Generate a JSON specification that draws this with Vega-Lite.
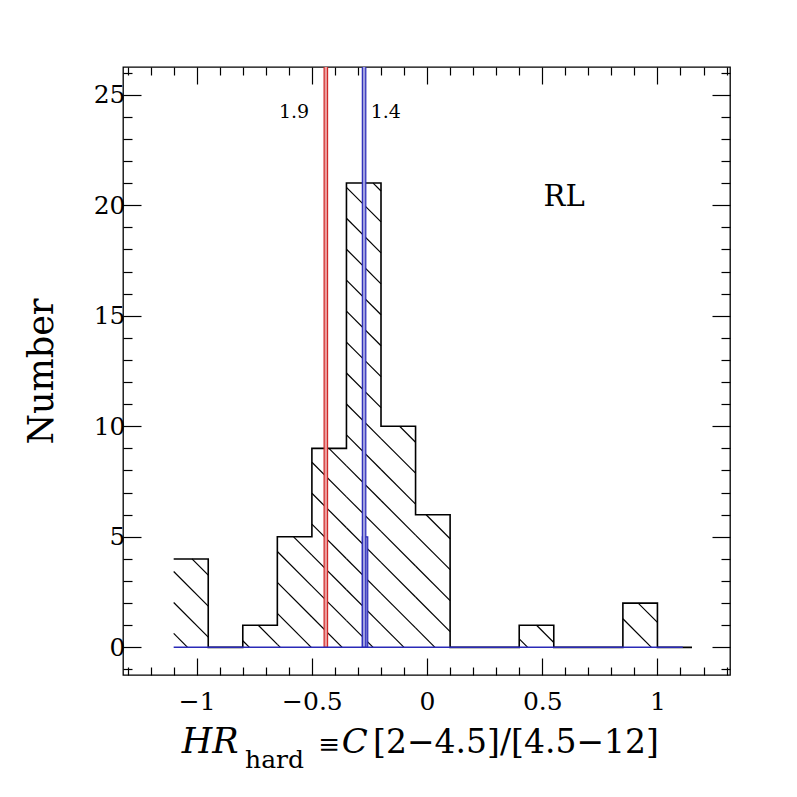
{
  "$schema": "https://vega.github.io/schema/vega-lite/v6.json",
  "width": 607,
  "height": 608,
  "autosize": {"type": "none"},
  "padding": {"left": 123, "top": 67, "right": 67, "bottom": 122},
  "background": "white",
  "config": {
    "view": {"stroke": "black", "strokeWidth": 1.3},
    "axis": {"grid": false, "domain": false, "labelFont": "DejaVu Serif", "labelFontSize": 25, "labelColor": "black", "tickColor": "black", "tickWidth": 1.2, "titleFont": "DejaVu Serif", "titleFontWeight": "normal", "titleColor": "black"}
  },
  "datasets": {
    "hist": [
      {"x": -1.1, "n": 4}, {"x": -0.95, "n": 0}, {"x": -0.8, "n": 1}, {"x": -0.65, "n": 5},
      {"x": -0.5, "n": 9}, {"x": -0.35, "n": 21}, {"x": -0.2, "n": 10}, {"x": -0.05, "n": 6},
      {"x": 0.1, "n": 0}, {"x": 0.25, "n": 0}, {"x": 0.4, "n": 1}, {"x": 0.55, "n": 0},
      {"x": 0.7, "n": 0}, {"x": 0.85, "n": 2}, {"x": 1.0, "n": 0}, {"x": 1.15, "n": 0}
    ],
    "hatch": [
      {"x": -1.1, "y": 0.63, "x2": -1.0396, "y2": 0},
      {"x": -1.1, "y": 2.03, "x2": -0.95, "y2": 0.466},
      {"x": -1.1, "y": 3.43, "x2": -0.95, "y2": 1.866},
      {"x": -1.0204, "y": 4, "x2": -0.95, "y2": 3.266},
      {"x": -0.8, "y": 0.301, "x2": -0.7711, "y2": 0},
      {"x": -0.7328, "y": 1, "x2": -0.65, "y2": 0.137},
      {"x": -0.65, "y": 0.137, "x2": -0.6369, "y2": 0},
      {"x": -0.65, "y": 1.537, "x2": -0.5027, "y2": 0},
      {"x": -0.65, "y": 2.937, "x2": -0.5, "y2": 1.372},
      {"x": -0.65, "y": 4.337, "x2": -0.5, "y2": 2.772},
      {"x": -0.5794, "y": 5, "x2": -0.5, "y2": 4.172},
      {"x": -0.5, "y": 1.372, "x2": -0.3685, "y2": 0},
      {"x": -0.5, "y": 2.772, "x2": -0.35, "y2": 1.208},
      {"x": -0.5, "y": 4.172, "x2": -0.35, "y2": 2.608},
      {"x": -0.5, "y": 5.572, "x2": -0.35, "y2": 4.008},
      {"x": -0.5, "y": 6.972, "x2": -0.35, "y2": 5.408},
      {"x": -0.5, "y": 8.372, "x2": -0.35, "y2": 6.808},
      {"x": -0.426, "y": 9, "x2": -0.35, "y2": 8.208},
      {"x": -0.35, "y": 1.208, "x2": -0.2342, "y2": 0},
      {"x": -0.35, "y": 2.608, "x2": -0.2, "y2": 1.043},
      {"x": -0.35, "y": 4.008, "x2": -0.2, "y2": 2.443},
      {"x": -0.35, "y": 5.408, "x2": -0.2, "y2": 3.843},
      {"x": -0.35, "y": 6.808, "x2": -0.2, "y2": 5.243},
      {"x": -0.35, "y": 8.208, "x2": -0.2, "y2": 6.643},
      {"x": -0.35, "y": 9.608, "x2": -0.2, "y2": 8.043},
      {"x": -0.35, "y": 11.008, "x2": -0.2, "y2": 9.443},
      {"x": -0.35, "y": 12.408, "x2": -0.2, "y2": 10.843},
      {"x": -0.35, "y": 13.808, "x2": -0.2, "y2": 12.243},
      {"x": -0.35, "y": 15.208, "x2": -0.2, "y2": 13.643},
      {"x": -0.35, "y": 16.608, "x2": -0.2, "y2": 15.043},
      {"x": -0.35, "y": 18.008, "x2": -0.2, "y2": 16.443},
      {"x": -0.35, "y": 19.408, "x2": -0.2, "y2": 17.843},
      {"x": -0.35, "y": 20.808, "x2": -0.2, "y2": 19.243},
      {"x": -0.2342, "y": 21, "x2": -0.2, "y2": 20.643},
      {"x": -0.2, "y": 1.043, "x2": -0.1, "y2": 0},
      {"x": -0.2, "y": 2.443, "x2": -0.05, "y2": 0.879},
      {"x": -0.2, "y": 3.843, "x2": -0.05, "y2": 2.279},
      {"x": -0.2, "y": 5.243, "x2": -0.05, "y2": 3.679},
      {"x": -0.2, "y": 6.643, "x2": -0.05, "y2": 5.079},
      {"x": -0.2, "y": 8.043, "x2": -0.05, "y2": 6.479},
      {"x": -0.2, "y": 9.443, "x2": -0.05, "y2": 7.879},
      {"x": -0.1192, "y": 10, "x2": -0.05, "y2": 9.279},
      {"x": -0.05, "y": 0.879, "x2": 0.0342, "y2": 0},
      {"x": -0.05, "y": 2.279, "x2": 0.1, "y2": 0.714},
      {"x": -0.05, "y": 3.679, "x2": 0.1, "y2": 2.114},
      {"x": -0.05, "y": 5.079, "x2": 0.1, "y2": 3.514},
      {"x": -0.0041, "y": 6, "x2": 0.1, "y2": 4.914},
      {"x": 0.4, "y": 0.385, "x2": 0.4369, "y2": 0},
      {"x": 0.4753, "y": 1, "x2": 0.55, "y2": 0.221},
      {"x": 0.85, "y": 1.292, "x2": 0.9738, "y2": 0},
      {"x": 0.9163, "y": 2, "x2": 1.0, "y2": 1.127}
    ],
    "bands": [
      {"x": -0.447, "x2": -0.432, "y": 0, "y2": 27, "c": "red"},
      {"x": -0.281, "x2": -0.2575, "y": 0, "y2": 5, "c": "blue"},
      {"x": -0.281, "x2": -0.266, "y": 0, "y2": 27, "c": "blue"}
    ],
    "one": [{}]
  },
  "resolve": {"axis": {"x": "independent", "y": "independent"}},
  "layer": [
    {
      "data": {"name": "hatch"},
      "mark": {"type": "rule", "color": "black", "strokeWidth": 1.2},
      "encoding": {
        "x": {"field": "x", "type": "quantitative",
          "scale": {"domain": [-1.32, 1.315], "nice": false, "zero": false},
          "axis": {"orient": "bottom", "title": null,
            "values": [-1.3,-1.2,-1.1,-1,-0.9,-0.8,-0.7,-0.6,-0.5,-0.4,-0.3,-0.2,-0.1,0,0.1,0.2,0.3,0.4,0.5,0.6,0.7,0.8,0.9,1,1.1,1.2,1.3],
            "format": ".1~f",
            "labelExpr": "abs(datum.value*2 - round(datum.value*2)) < 0.001 ? datum.label : ''",
            "tickSize": {"condition": {"test": "abs(datum.value*2 - round(datum.value*2)) < 0.001", "value": -17}, "value": -8},
            "labelPadding": 31}},
        "y": {"field": "y", "type": "quantitative",
          "scale": {"domain": [-1.25, 26.25], "nice": false, "zero": false},
          "axis": {"orient": "left", "title": "Number", "titleFontSize": 35, "titlePadding": 34,
            "values": [-1,0,1,2,3,4,5,6,7,8,9,10,11,12,13,14,15,16,17,18,19,20,21,22,23,24,25,26],
            "labelExpr": "datum.value % 5 === 0 ? datum.label : ''",
            "tickSize": {"condition": {"test": "datum.value % 5 === 0", "value": -18}, "value": -9},
            "labelPadding": 16}},
        "x2": {"field": "x2"},
        "y2": {"field": "y2"}
      }
    },
    {
      "data": {"name": "hist"},
      "mark": {"type": "line", "interpolate": "step-after", "color": "black", "strokeWidth": 1.6},
      "encoding": {
        "x": {"field": "x", "type": "quantitative",
          "axis": {"orient": "top", "title": null, "labels": false,
            "values": [-1.3,-1.2,-1.1,-1,-0.9,-0.8,-0.7,-0.6,-0.5,-0.4,-0.3,-0.2,-0.1,0,0.1,0.2,0.3,0.4,0.5,0.6,0.7,0.8,0.9,1,1.1,1.2,1.3],
            "tickSize": {"condition": {"test": "abs(datum.value*2 - round(datum.value*2)) < 0.001", "value": -17}, "value": -8}}},
        "y": {"field": "n", "type": "quantitative",
          "axis": {"orient": "right", "title": null, "labels": false,
            "values": [-1,0,1,2,3,4,5,6,7,8,9,10,11,12,13,14,15,16,17,18,19,20,21,22,23,24,25,26],
            "tickSize": {"condition": {"test": "datum.value % 5 === 0", "value": -18}, "value": -9}}}
      }
    },
    {
      "data": {"name": "bands"},
      "mark": {"type": "rect", "clip": true, "strokeWidth": 1.2},
      "encoding": {
        "x": {"field": "x", "type": "quantitative", "axis": null},
        "x2": {"field": "x2"},
        "y": {"field": "y", "type": "quantitative", "axis": null},
        "y2": {"field": "y2"},
        "stroke": {"field": "c", "type": "nominal", "scale": {"domain": ["red", "blue"], "range": ["#d02828", "#2a2ab8"]}, "legend": null},
        "fill": {"field": "c", "type": "nominal", "scale": {"domain": ["red", "blue"], "range": ["#eca0a0", "#a0a0e0"]}, "legend": null}
      }
    },
    {
      "data": {"name": "one"},
      "mark": {"type": "rule", "color": "#2a2ab8", "strokeWidth": 1.5},
      "encoding": {
        "x": {"datum": -1.1, "type": "quantitative", "axis": null},
        "x2": {"datum": 1.11},
        "y": {"datum": 0, "type": "quantitative", "axis": null}
      }
    },
    {
      "data": {"name": "one"},
      "mark": {"type": "text", "font": "DejaVu Serif", "fontSize": 19, "align": "center", "baseline": "alphabetic", "color": "black"},
      "encoding": {
        "x": {"datum": -0.5775, "type": "quantitative", "axis": null},
        "y": {"datum": 23.95, "type": "quantitative", "axis": null},
        "text": {"value": "1.9"}
      }
    },
    {
      "data": {"name": "one"},
      "mark": {"type": "text", "font": "DejaVu Serif", "fontSize": 19, "align": "center", "baseline": "alphabetic", "color": "black"},
      "encoding": {
        "x": {"datum": -0.179, "type": "quantitative", "axis": null},
        "y": {"datum": 23.95, "type": "quantitative", "axis": null},
        "text": {"value": "1.4"}
      }
    },
    {
      "data": {"name": "one"},
      "mark": {"type": "text", "font": "DejaVu Serif", "fontSize": 29, "align": "center", "baseline": "alphabetic", "color": "black"},
      "encoding": {
        "x": {"datum": 0.595, "type": "quantitative", "axis": null},
        "y": {"datum": 19.95, "type": "quantitative", "axis": null},
        "text": {"value": "RL"}
      }
    },
    {
      "data": {"name": "one"},
      "mark": {"type": "text", "font": "DejaVu Serif", "fontStyle": "italic", "fontSize": 35, "align": "left", "baseline": "alphabetic", "color": "black"},
      "encoding": {
        "x": {"datum": -1.065, "type": "quantitative", "axis": null},
        "y": {"datum": -4.8, "type": "quantitative", "axis": null},
        "text": {"value": "HR"}
      }
    },
    {
      "data": {"name": "one"},
      "mark": {"type": "text", "font": "DejaVu Serif", "fontSize": 25, "align": "left", "baseline": "alphabetic", "color": "black"},
      "encoding": {
        "x": {"datum": -0.79, "type": "quantitative", "axis": null},
        "y": {"datum": -5.45, "type": "quantitative", "axis": null},
        "text": {"value": "hard"}
      }
    },
    {
      "data": {"name": "one"},
      "mark": {"type": "text", "font": "DejaVu Serif", "fontSize": 26, "align": "left", "baseline": "alphabetic", "color": "black"},
      "encoding": {
        "x": {"datum": -0.472, "type": "quantitative", "axis": null},
        "y": {"datum": -4.8, "type": "quantitative", "axis": null},
        "text": {"value": "≡"}
      }
    },
    {
      "data": {"name": "one"},
      "mark": {"type": "text", "font": "DejaVu Serif", "fontStyle": "italic", "fontSize": 34, "align": "left", "baseline": "alphabetic", "color": "black"},
      "encoding": {
        "x": {"datum": -0.37, "type": "quantitative", "axis": null},
        "y": {"datum": -4.8, "type": "quantitative", "axis": null},
        "text": {"value": "C"}
      }
    },
    {
      "data": {"name": "one"},
      "mark": {"type": "text", "font": "DejaVu Serif", "fontSize": 33, "align": "left", "baseline": "alphabetic", "color": "black"},
      "encoding": {
        "x": {"datum": -0.2345, "type": "quantitative", "axis": null},
        "y": {"datum": -4.8, "type": "quantitative", "axis": null},
        "text": {"value": "[2−4.5]/[4.5−12]"}
      }
    }
  ]
}
